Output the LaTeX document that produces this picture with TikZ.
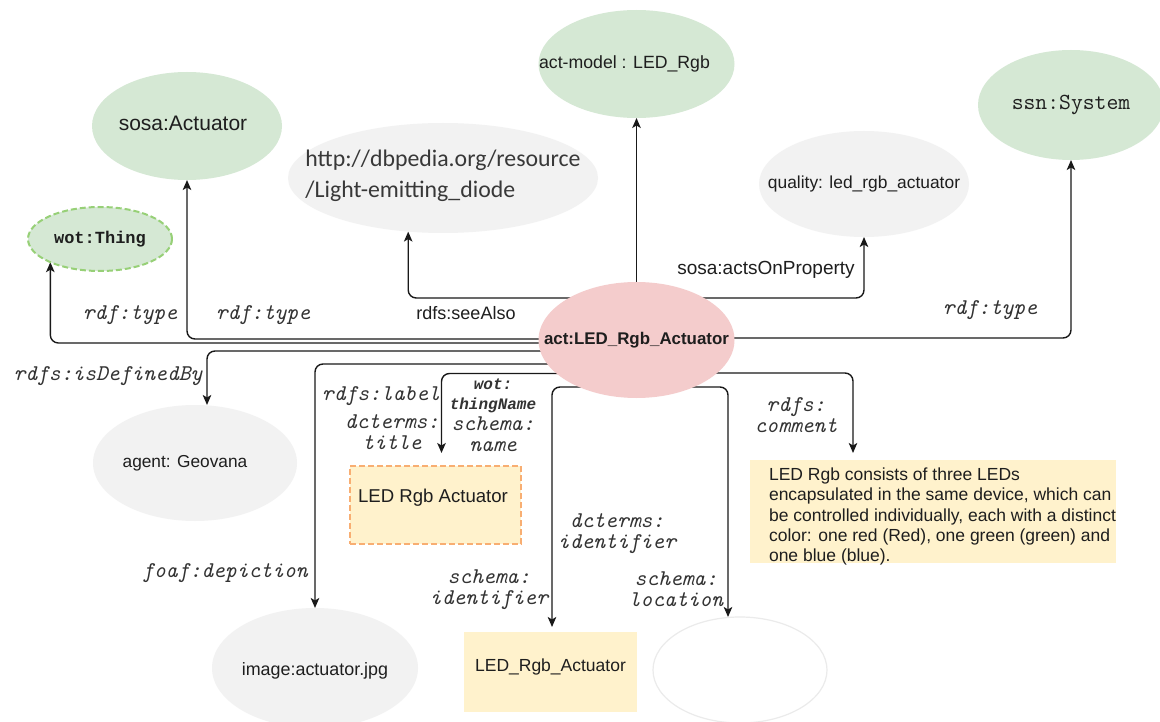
\documentclass[tikz,border=0pt]{standalone}
\usepackage{fontspec}
\setmainfont{Liberation Sans}
\newfontfamily\carl{Carlito}
\newfontfamily\lbm{Liberation Mono}
\usetikzlibrary{shapes.geometric,arrows.meta,backgrounds,calc}
\definecolor{gfill}{HTML}{D5E8D4}
\definecolor{gdash}{HTML}{97D077}
\definecolor{grayfill}{HTML}{F2F2F2}
\definecolor{pinkfill}{HTML}{F4CCCC}
\definecolor{yfill}{HTML}{FFF2CC}
\definecolor{odash}{HTML}{F8AE72}
\definecolor{lblc}{HTML}{333333}
\definecolor{txtc}{HTML}{1E1E1E}
\begin{document}
\begin{tikzpicture}[x=1pt,y=-1pt,
  ell/.style={ellipse, inner sep=0pt, outer sep=0pt, draw=none},
  box/.style={rectangle, inner sep=0pt, outer sep=0pt, draw=none},
  arr/.style={draw=black!90, line width=1.4pt, rounded corners=8pt,
    -{Stealth[length=10pt,width=8.5pt,inset=2.5pt]}},
  elbl/.style={font=\ttfamily\fontsize{22.5}{21}\selectfont\itshape, text=lblc,
    align=center, inner sep=0pt},
  slbl/.style={font=\fontsize{18}{21}\selectfont, text=txtc, inner sep=0pt},
  ntxt/.style={font=\fontsize{17.5}{20}\selectfont, text=txtc}
]
\useasboundingbox (0,0) rectangle (1160,722);

% ---------- nodes ----------
\node[ell, minimum width=190pt, minimum height=108pt, fill=gfill,
  label={[name=sosaT, font=\fontsize{21}{24}\selectfont, text=txtc, xshift=-4pt, yshift=3pt]center:{sosa:Actuator}}]
  (sosa) at (187,126) {};
\node[ell, minimum width=196pt, minimum height=108pt, fill=gfill,
  label={[name=actmodelT, ntxt, font=\fontsize{17.7}{20}\selectfont, xshift=-12pt]center:{act-model : LED\_Rgb}}]
  (actmodel) at (636.5,64) {};
\node[ell, minimum width=186pt, minimum height=110pt, fill=gfill,
  label={[name=ssnT, font=\ttfamily\fontsize{23}{24}\selectfont, text=txtc]center:{ssn:System}}]
  (ssn) at (1071,105) {};
\node[ell, minimum width=310pt, minimum height=110pt, fill=grayfill,
  label={[name=dbpT, align=left, font=\carl\fontsize{23.8}{31}\selectfont, text=black!78, yshift=2pt]center:{http://dbpedia.org/resource\\/Light-emitting\_diode}}]
  (dbp) at (443,178) {};
\node[ell, minimum width=210pt, minimum height=106pt, fill=grayfill,
  label={[name=qualityT, font=\fontsize{17.4}{20}\selectfont, text=txtc]center:{quality: led\_rgb\_actuator}}]
  (quality) at (864,184) {};
\node[ell, minimum width=144pt, minimum height=64pt, fill=gfill,
  draw=gdash, line width=2pt, dash pattern=on 6pt off 3pt,
  label={[name=wotT, font=\lbm\bfseries\fontsize{17}{20}\selectfont, text=txtc]center:{wot:Thing}}]
  (wot) at (100,239) {};
\node[ell, minimum width=196pt, minimum height=116pt, fill=pinkfill,
  label={[name=actT, font=\bfseries\fontsize{16.9}{20}\selectfont, text=txtc]center:{act:LED\_Rgb\_Actuator}}]
  (act) at (636.5,340) {};
\node[ell, minimum width=204pt, minimum height=116pt, fill=grayfill,
  label={[name=agentT, font=\fontsize{17.3}{20}\selectfont, text=txtc, xshift=-10pt]center:{agent: Geovana}}]
  (agent) at (195,463) {};
\node[box, minimum width=171pt, minimum height=78pt, fill=yfill,
  draw=odash, line width=1.8pt, dash pattern=on 6pt off 3pt,
  label={[name=lboxT, font=\fontsize{18.6}{22}\selectfont, text=txtc, xshift=-2.5pt, yshift=7pt]center:{LED Rgb Actuator}}]
  (lbox) at (435.5,505) {};
\node[box, minimum width=366pt, minimum height=103pt, fill=yfill,
  label={[name=descT, align=left, font=\fontsize{17.5}{20.3}\selectfont, text=txtc, xshift=9.5pt, yshift=-5pt]center:{LED Rgb consists of three LEDs\\encapsulated in the same device, which can\\be controlled individually, each with a distinct\\color: one red (Red), one green (green) and\\one blue (blue).}}]
  (desc) at (933,511.5) {};
\node[ell, minimum width=206pt, minimum height=120pt, fill=grayfill,
  label={[name=imageT, font=\fontsize{17.9}{20}\selectfont, text=txtc, yshift=-3pt]center:{image:actuator.jpg}}]
  (image) at (315,668) {};
\node[box, minimum width=173pt, minimum height=80pt, fill=yfill,
  label={[name=idboxT, font=\fontsize{17.5}{20}\selectfont, text=txtc, yshift=5pt]center:{LED\_Rgb\_Actuator}}]
  (idbox) at (550.5,672) {};
\node[ell, minimum width=174pt, minimum height=106pt, fill=white, draw=black!8, line width=1.2pt]
  (loc) at (740,670) {};

% ---------- edge labels ----------
\node[elbl] (l1) at (130,315) {rdf:type};
\node[elbl] (l2) at (263,315) {rdf:type};
\node[slbl] (l3) at (466,313) {rdfs:seeAlso};
\node[slbl, font=\fontsize{19}{21}\selectfont] (l4) at (766,270) {sosa:actsOnProperty};
\node[elbl] (l5) at (990,310) {rdf:type};
\node[elbl] (l6) at (108,376) {rdfs:isDefinedBy};
\node[elbl] (l7) at (225,573) {foaf:depiction};
\node[elbl] (l8) at (381,396) {rdfs:label};
\node[elbl] (l9) at (392,432) {dcterms:\\title};
\node[elbl, font=\lbm\fontsize{16}{20}\selectfont\bfseries\itshape] (l10) at (493,396) {wot:\\thingName};
\node[elbl] (l11) at (493,434) {schema:\\name};
\node[elbl] (l12) at (796,415) {rdfs:\\comment};
\node[elbl] (l13) at (617,534) {dcterms:\\identifier};
\node[elbl] (l14) at (489,590) {schema:\\identifier};
\node[elbl] (l15) at (676,589) {schema:\\location};

% ---------- connectors (behind the nodes) ----------
\begin{pgfonlayer}{background}
\fill[white] (0,0) rectangle (1160,722);
\draw[arr] (act.center |- 0,343) -| (wot.205.5);
\draw[arr] (act.center |- 0,339) -| (sosa.south);
\draw[arr] (act.center |- 0,298) -| (dbp.237);
\draw[arr] (act) -- (actmodel);
\draw[arr] (act.center |- 0,298) -| (quality.south);
\draw[arr] (act.center |- 0,338) -| (ssn.south);
\draw[arr] (act.center |- 0,351) -| ([xshift=12pt]agent.north);
\draw[arr] (act.center |- 0,364) -| (image.north);
\draw[arr] (act.center |- 0,373.5) -| ([xshift=6pt,yshift=13pt]lbox.north);
\draw[arr] (act.center |- 0,373) -| ([xshift=-80pt,yshift=7pt]desc.north);
\draw[arr] (act.center |- 0,387) -| ([xshift=1.5pt,yshift=5pt]idbox.north);
\draw[arr] (act.center |- 0,387) -| ([xshift=-12pt]loc.north);
\end{pgfonlayer}
\end{tikzpicture}
\end{document}
